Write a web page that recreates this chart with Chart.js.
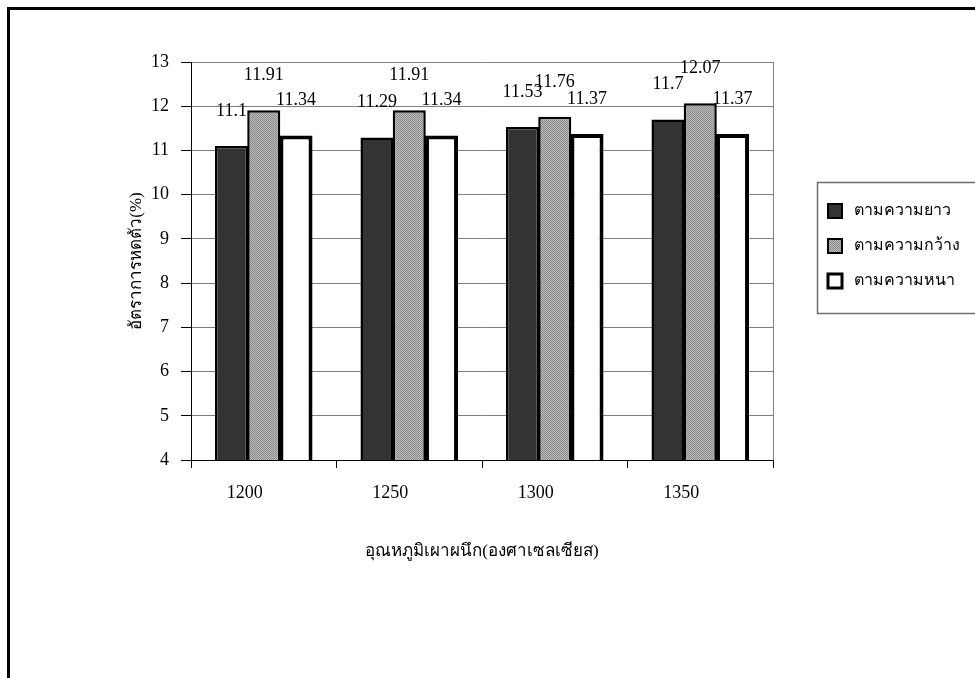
<!DOCTYPE html>
<html>
<head>
<meta charset="utf-8">
<script src="https://cdn.jsdelivr.net/npm/chart.js@4/dist/chart.umd.min.js"></script>
<style>
  html, body { margin: 0; padding: 0; background: #fff; }
  #wrap { position: relative; width: 975px; height: 678px; }
</style>
</head>
<body>
<div id="wrap"><canvas id="c" width="975" height="678"></canvas></div>
<script>
// Sintering temperature (°C)
const categories = ['1200', '1250', '1300', '1350'];
// Shrinkage (%) along length, width and thickness
const lengthShrink = [11.1, 11.29, 11.53, 11.7];
const widthShrink = [11.91, 11.91, 11.76, 12.07];
const thickShrink = [11.34, 11.34, 11.37, 11.37];
const seriesNames = ['ตามความยาว', 'ตามความกว้าง', 'ตามความหนา'];
const yMin = 4, yMax = 13, yStep = 1;

const serif = '"Liberation Serif", "DejaVu Serif", serif';

// fine dotted grey fill
function dotPattern() {
  const p = document.createElement('canvas');
  p.width = 2; p.height = 2;
  const g = p.getContext('2d');
  g.fillStyle = '#bdbdbd'; g.fillRect(0, 0, 2, 2);
  g.fillStyle = '#8a8a8a'; g.fillRect(0, 0, 1, 1); g.fillRect(1, 1, 1, 1);
  return g.createPattern(p, 'repeat');
}
const ctx = document.getElementById('c').getContext('2d');
const greyFill = dotPattern();

const styles = [
  { bg: '#333333', bw: 2.5 },
  { bg: greyFill, bw: 2.5 },
  { bg: '#ffffff', bw: 4 }
];

const valueLabels = {
  id: 'valueLabels',
  afterDatasetsDraw(chart) {
    const c = chart.ctx;
    c.save();
    c.font = '18px ' + serif;
    c.fillStyle = '#000';
    c.textAlign = 'center';
    c.textBaseline = 'middle';
    chart.data.datasets.forEach((ds, i) => {
      chart.getDatasetMeta(i).data.forEach((bar, j) => {
        c.fillText(String(ds.data[j]), bar.x, bar.y - 35);
      });
    });
    c.restore();
  }
};

const frame = {
  id: 'frame',
  beforeDraw(chart) {
    const c = chart.ctx;
    c.save();
    c.fillStyle = '#fff';
    c.fillRect(0, 0, chart.width, chart.height);
    c.fillStyle = '#000';
    c.fillRect(7, 7, chart.width, 3);
    c.fillRect(7, 7, 3, chart.height);
    c.restore();
  },
  afterDraw(chart) {
    const a = chart.chartArea;
    const c = chart.ctx;
    c.save();
    c.strokeStyle = '#808080';
    c.lineWidth = 1;
    c.beginPath();
    c.moveTo(a.right + 0.5, a.top);
    c.lineTo(a.right + 0.5, a.bottom);
    c.stroke();

    // legend
    const lx = 817, ly = 182, lh = 131;
    c.strokeStyle = '#6e6e6e';
    c.lineWidth = 1.5;
    c.strokeRect(lx + 0.5, ly + 0.5, 200, lh);
    c.font = '16px ' + serif;
    c.textBaseline = 'middle';
    c.textAlign = 'left';
    seriesNames.forEach((name, i) => {
      const cy = ly + 29 + i * 35;
      const s = styles[i];
      const sz = 14;
      c.fillStyle = s.bg;
      c.fillRect(lx + 11, cy - sz / 2, sz, sz);
      c.strokeStyle = '#000';
      c.lineWidth = i === 2 ? 3 : 2;
      c.strokeRect(lx + 11, cy - sz / 2, sz, sz);
      c.fillStyle = '#000';
      c.fillText(name, lx + 37, cy);
    });
    c.restore();
  }
};

new Chart(ctx, {
  type: 'bar',
  data: {
    labels: categories,
    datasets: [lengthShrink, widthShrink, thickShrink].map((d, i) => ({
      label: seriesNames[i],
      data: d,
      backgroundColor: styles[i].bg,
      borderColor: '#000',
      borderWidth: styles[i].bw,
      borderSkipped: false,
      categoryPercentage: 0.665,
      barPercentage: 1.025
    }))
  },
  options: {
    responsive: false,
    animation: false,
    events: [],
    layout: { padding: { left: 0, top: 62, right: 202, bottom: 0 } },
    plugins: { legend: { display: false }, tooltip: { enabled: false } },
    scales: {
      x: {
        afterFit(s) { s.height = 218; },
        grid: { drawOnChartArea: false, drawTicks: true, tickLength: 8, tickColor: '#000', offset: true },
        border: { color: '#000', width: 1 },
        ticks: { color: '#000', font: { family: serif, size: 18 }, padding: 14, labelOffset: -19, maxRotation: 0 },
        title: {
          display: true,
          text: 'อุณหภูมิเผาผนึก(องศาเซลเซียส)',
          color: '#000',
          font: { family: serif, size: 17 },
          padding: { top: 0, bottom: 116 }
        }
      },
      y: {
        min: yMin, max: yMax,
        afterFit(s) { s.width = 191; },
        grid: { color: '#808080', tickColor: '#000', tickLength: 10, lineWidth: 1 },
        border: { color: '#000', width: 1 },
        ticks: { stepSize: yStep, color: '#000', font: { family: serif, size: 18 }, padding: 12 },
        title: {
          display: true,
          text: 'อัตราการหดตัว(%)',
          color: '#000',
          font: { family: serif, size: 17 },
          padding: { top: 126, bottom: 0 }
        }
      }
    }
  },
  plugins: [frame, valueLabels]
});
</script>
</body>
</html>
